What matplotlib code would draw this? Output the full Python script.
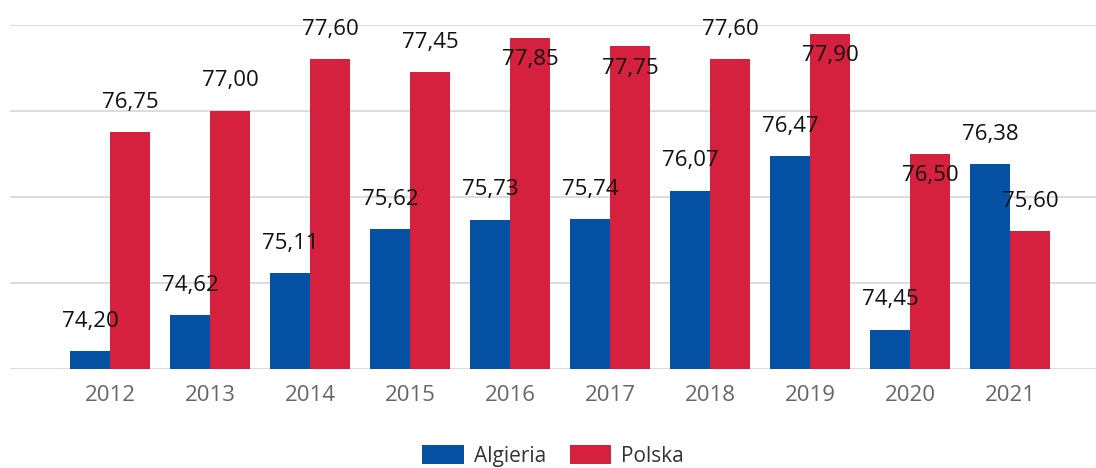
import numpy as np
import matplotlib.pyplot as plt

years = ['2012', '2013', '2014', '2015', '2016', '2017', '2018', '2019', '2020', '2021']
algieria = [74.20, 74.62, 75.11, 75.62, 75.73, 75.74, 76.07, 76.47, 74.45, 76.38]
polska = [76.75, 77.00, 77.60, 77.45, 77.85, 77.75, 77.60, 77.90, 76.50, 75.60]
# where each label sits: 'a' above the bar, 'i' inside its top
algieria_pos = ['a'] * 10
polska_pos = ['a', 'a', 'a', 'a', 'i', 'i', 'a', 'i', 'i', 'a']

blue = '#0551a3'
red = '#d5213e'

plt.rcParams['font.family'] = ['Open Sans', 'DejaVu Sans']

fig = plt.figure(figsize=(10.96, 4.68), dpi=100)
ax = fig.add_axes([10 / 1096, 99.5 / 468, 1086 / 1096, 343.5 / 468])

x = np.arange(len(years))
w = 0.4
b1 = ax.bar(x - w / 2, np.array(algieria) - 74, w, bottom=74, color=blue, label='Algieria', zorder=3)
b2 = ax.bar(x + w / 2, np.array(polska) - 74, w, bottom=74, color=red, label='Polska', zorder=3)


def label(xs, vals, pos):
    for xi, v, p in zip(xs, vals, pos):
        dy = 21.6 if p == 'a' else -15.8
        ax.annotate(f'{v:.2f}'.replace('.', ','), (xi, v), xytext=(0, dy),
                    textcoords='offset points', ha='center', va='center',
                    fontsize=16, color='#111111', zorder=5)


label(x - w / 2, algieria, algieria_pos)
label(x + w / 2, polska, polska_pos)

ax.set_xlim(-1.0, 9.86)
ax.set_ylim(74, 78)
ax.set_yticks([74, 75, 76, 77, 78])
ax.yaxis.grid(True, color='#dcdcdc', linewidth=1.5, zorder=0)
ax.tick_params(axis='y', left=False, labelleft=False)
ax.set_xticks(x)
ax.set_xticklabels(years, fontsize=16, color='#666666')
ax.tick_params(axis='x', length=0, pad=12)
for s in ['top', 'right', 'left', 'bottom']:
    ax.spines[s].set_visible(False)

fig.legend(handles=[b1, b2], loc='center', bbox_to_anchor=(553 / 1096, 12 / 468),
           ncol=2, frameon=False, fontsize=15, handlelength=2.0, handleheight=1.0,
           columnspacing=1.15, handletextpad=0.48, labelcolor='#333333',
           borderpad=0)

fig.savefig('out.png', dpi=100)
